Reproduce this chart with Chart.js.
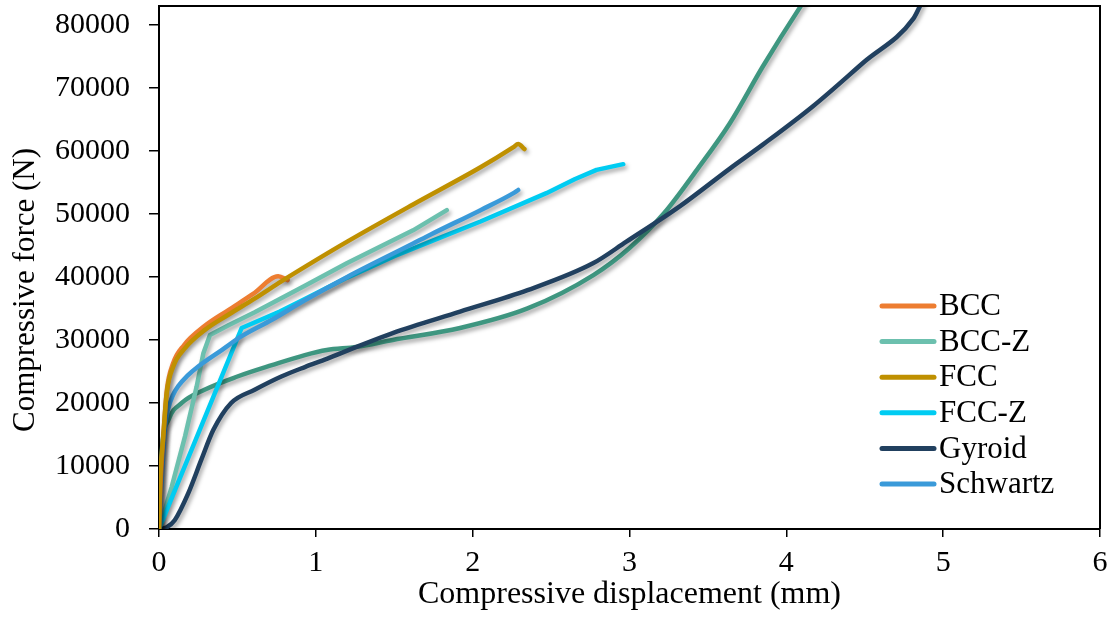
<!DOCTYPE html>
<html>
<head>
<meta charset="utf-8">
<script src="https://cdn.jsdelivr.net/npm/chart.js@4.4.0/dist/chart.umd.min.js"></script>
<style>
  html, body { margin: 0; padding: 0; background: #fff; }
  #contenedor { width: 1113px; height: 618px; }
</style>
</head>
<body>
<div id="contenedor"><canvas id="grafico"></canvas></div>
<script>
//---------------
// Datos (x en mm, y en N)
//---------------
const bccX = [0, 0.01, 0.03, 0.05, 0.09, 0.16, 0.29, 0.44, 0.6, 0.76, 0.82];
const bccY = [0, 7000, 15500, 22000, 26300, 29200, 32200, 34700, 37300, 40100, 39500];

const bccZX = [0, 0.081, 0.166, 0.24, 0.283, 0.325, 0.44, 0.61, 0.77, 0.93, 1.2, 1.62, 1.835];
const bccZY = [0, 6700, 14700, 22600, 27900, 30800, 32300, 34400, 36500, 38600, 42200, 47400, 50600];

const fccX = [0, 0.006, 0.027, 0.049, 0.091, 0.166, 0.293, 0.442, 0.612, 0.78, 0.93, 1.2, 1.62, 2.05, 2.26, 2.29, 2.33];
const fccY = [0, 6700, 14600, 21500, 25800, 28700, 31600, 34000, 36600, 39300, 41600, 45600, 51500, 57400, 60600, 61100, 60300];

const fccZX = [0, 0.527, 0.77, 0.93, 1.2, 1.5, 1.73, 2.05, 2.47, 2.65, 2.79, 2.96];
const fccZY = [0, 31900, 34500, 36500, 39900, 43300, 45600, 48800, 53300, 55500, 57000, 57900];

const gyroidX = [0, 0.05, 0.1, 0.187, 0.27, 0.346, 0.46, 0.61, 0.78, 0.93, 1.07, 1.26, 1.49, 1.92, 2.35, 2.77, 2.98, 3.32, 3.64, 3.85, 4.17, 4.49, 4.81, 4.85, 4.88];
const gyroidY = [0, 300, 1400, 5700, 11000, 15700, 20000, 22100, 24200, 25700, 27000, 28900, 31100, 34500, 37900, 42200, 45600, 51200, 57200, 61000, 67100, 74000, 81000, 82900, 84500];

const schwartzX = [0, 0.01, 0.027, 0.038, 0.06, 0.09, 0.123, 0.18, 0.25, 0.4, 0.527, 0.72, 0.93, 1.2, 1.62, 1.73, 2.05, 2.26, 2.29];
const schwartzY = [0, 5000, 12000, 16000, 19200, 21300, 22700, 24300, 25800, 28400, 30600, 33200, 36300, 40000, 45300, 46700, 50600, 53300, 53800];

// curva sin entrada en la leyenda
const extraX = [0, 0.017, 0.06, 0.145, 0.29, 0.5, 0.72, 0.93, 1.07, 1.26, 1.49, 1.92, 2.35, 2.77, 3.0, 3.22, 3.43, 3.64, 3.85, 4.09, 4.12];
const extraY = [0, 12000, 17300, 20000, 22100, 24200, 26000, 27600, 28400, 28900, 30000, 31900, 35000, 40300, 44600, 50100, 57000, 64400, 73400, 82900, 84000];

const ticksX = [0, 1, 2, 3, 4, 5, 6];
const ticksY = [0, 10000, 20000, 30000, 40000, 50000, 60000, 70000, 80000];

const puntos = (xs, ys) => xs.map((x, i) => ({ x: x, y: ys[i] }));

const fuente = 'Liberation Serif, "Times New Roman", serif';

function serie(label, xs, ys, color, orden, suave) {
  return {
    label: label,
    data: puntos(xs, ys),
    borderColor: color,
    backgroundColor: color,
    borderWidth: 4.5,
    borderCapStyle: 'round',
    borderJoinStyle: 'round',
    pointRadius: 0,
    tension: 0,
    cubicInterpolationMode: suave ? 'monotone' : 'default',
    fill: false,
    order: orden
  };
}

//---------------
// Plugins: sombra, marco, título Y y leyenda interna
//---------------
const sombra = {
  id: 'sombra',
  beforeDatasetsDraw(chart) {
    const ctx = chart.ctx;
    ctx.save();
    ctx.shadowColor = 'rgba(0,0,0,0.35)';
    ctx.shadowBlur = 4;
    ctx.shadowOffsetX = 2;
    ctx.shadowOffsetY = 3;
  },
  afterDatasetsDraw(chart) {
    chart.ctx.restore();
  }
};

const marco = {
  id: 'marco',
  afterDraw(chart) {
    const a = chart.chartArea;
    const ctx = chart.ctx;
    ctx.save();
    ctx.strokeStyle = '#000';
    ctx.lineWidth = 2;
    ctx.beginPath();
    ctx.moveTo(a.left, a.top);
    ctx.lineTo(a.right, a.top);
    ctx.lineTo(a.right, a.bottom);
    ctx.stroke();

    // título del eje Y, un poco bajo el centro como en la figura
    ctx.font = '31px ' + fuente;
    ctx.fillStyle = '#000';
    ctx.textAlign = 'center';
    ctx.textBaseline = 'middle';
    ctx.translate(26, 290);
    ctx.rotate(-Math.PI / 2);
    ctx.fillText('Compressive force (N)', 0, 0);
    ctx.restore();
  }
};

const leyenda = {
  id: 'leyenda',
  afterDraw(chart) {
    const ctx = chart.ctx;
    ctx.save();
    ctx.font = '31px ' + fuente;
    ctx.textBaseline = 'middle';
    ctx.fillStyle = '#000';
    let y = 306;
    chart.data.datasets.forEach(ds => {
      if (!ds.label) return;
      ctx.strokeStyle = ds.borderColor;
      ctx.lineWidth = 5;
      ctx.lineCap = 'round';
      ctx.beginPath();
      ctx.moveTo(882, y);
      ctx.lineTo(934, y);
      ctx.stroke();
      ctx.fillText(ds.label, 939, y + 1);
      y += 35.6;
    });
    ctx.restore();
  }
};

//---------------
// Gráfico
//---------------
const grafico = new Chart(document.getElementById('grafico'), {
  type: 'line',
  data: {
    datasets: [
      serie('BCC', bccX, bccY, '#ED7D31', 2, true),
      serie('BCC-Z', bccZX, bccZY, '#6CC0AE', 5, false),
      serie('FCC', fccX, fccY, '#BF9000', 1, true),
      serie('FCC-Z', fccZX, fccZY, '#00CCF2', 4, false),
      serie('Gyroid', gyroidX, gyroidY, '#21405F', 6, true),
      serie('Schwartz', schwartzX, schwartzY, '#3A9AD9', 3, true),
      serie('', extraX, extraY, '#3E9680', 7, true)
    ]
  },
  options: {
    responsive: true,
    maintainAspectRatio: false,
    animation: false,
    layout: { padding: { left: 8, top: 6, right: 13, bottom: 4 } },
    plugins: {
      legend: { display: false },
      tooltip: { enabled: false }
    },
    scales: {
      x: {
        type: 'linear',
        min: 0,
        max: 6,
        afterBuildTicks: s => { s.ticks = ticksX.map(v => ({ value: v })); },
        afterFit: s => { s.height = 85; s.paddingLeft = 0; s.paddingRight = 0; },
        ticks: { color: '#000', font: { family: fuente, size: 30 }, padding: 8, maxRotation: 0 },
        grid: { drawOnChartArea: false, drawTicks: true, tickLength: 8, color: '#000', lineWidth: 1.5 },
        border: { color: '#000', width: 2 },
        title: { display: true, text: 'Compressive displacement (mm)', color: '#000', font: { family: fuente, size: 32 }, padding: 0 }
      },
      y: {
        type: 'linear',
        min: 0,
        max: 83000,
        afterBuildTicks: s => { s.ticks = ticksY.map(v => ({ value: v })); },
        afterFit: s => { s.width = 151; s.paddingTop = 0; s.paddingBottom = 0; },
        ticks: { color: '#000', font: { family: fuente, size: 30 }, padding: 19, callback: v => String(v) },
        grid: { drawOnChartArea: false, drawTicks: true, tickLength: 10, color: '#000', lineWidth: 1.5 },
        border: { color: '#000', width: 2 },
        title: { display: false }
      }
    }
  },
  plugins: [sombra, marco, leyenda]
});
</script>
</body>
</html>
